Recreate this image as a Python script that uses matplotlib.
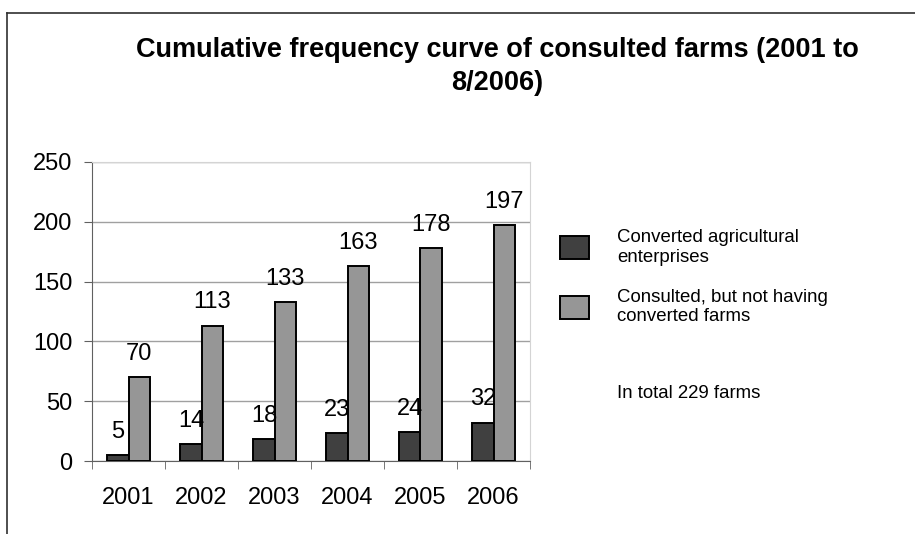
import matplotlib.pyplot as plt
import numpy as np
from matplotlib.lines import Line2D

plt.rcParams['font.family'] = ['Liberation Sans', 'DejaVu Sans']

years = ["2001", "2002", "2003", "2004", "2005", "2006"]
converted = [5, 14, 18, 23, 24, 32]
consulted = [70, 113, 133, 163, 178, 197]
labels = ["Converted agricultural\nenterprises", "Consulted, but not having\nconverted farms"]

fig = plt.figure(figsize=(9.15, 5.34), dpi=100)
ax = fig.add_axes([92 / 915, 1 - 461 / 534, 438 / 915, 299 / 534])

x = np.arange(len(years))
w = 0.29
b1 = ax.bar(x - w / 2, converted, w, color="#404040", edgecolor="black", linewidth=1.4, label=labels[0], zorder=3)
b2 = ax.bar(x + w / 2, consulted, w, color="#969696", edgecolor="black", linewidth=1.4, label=labels[1], zorder=3)

for bars, vals in [(b1, converted), (b2, consulted)]:
    for r, v in zip(bars, vals):
        ax.annotate(str(v), (r.get_x() + r.get_width() / 2, v), xytext=(0, 12.5),
                    textcoords="offset points", ha="center", va="baseline", fontsize=17, zorder=4)

ax.set_xlim(-0.5, 5.5)
ax.set_ylim(0, 250)
ax.set_yticks(range(0, 251, 50))
ax.set_xticks(x)
ax.set_xticklabels(years)
ax.set_xticks(np.arange(-0.5, 6, 1), minor=True)
ax.tick_params(axis="x", which="major", length=0, pad=19, labelsize=17)
ax.tick_params(axis="x", which="minor", length=6, direction="out", color="#606060")
ax.tick_params(axis="y", length=6, direction="out", color="#606060", pad=8, labelsize=17)
ax.yaxis.grid(True, color="#a0a0a0", linewidth=1, zorder=0)
for s in ["left", "bottom"]:
    ax.spines[s].set_color("#606060")
for s in ["top", "right"]:
    ax.spines[s].set_color("#d4d4d4")

fig.suptitle("Cumulative frequency curve of consulted farms (2001 to\n8/2006)",
             x=497 / 915, y=1 - 37 / 534, fontsize=19.5, fontweight="bold", linespacing=1.37)

fig.legend(handles=[b1, b2], loc="upper left", bbox_to_anchor=(560 / 915, 1 - 229 / 534),
           frameon=False, fontsize=13.4, handlelength=1.55, handleheight=1.5,
           handletextpad=1.5, labelspacing=1.25, borderpad=0, borderaxespad=0)
fig.text(617 / 915, 1 - 393 / 534, "In total 229 farms", fontsize=13.4, va="center", ha="left")

# outer chart frame (only top and left visible)
fig.add_artist(Line2D([7 / 915, 1], [1 - 13 / 534, 1 - 13 / 534], color="#303030", linewidth=1.2))
fig.add_artist(Line2D([7 / 915, 7 / 915], [0, 1 - 13 / 534], color="#303030", linewidth=1.2))

fig.savefig("out.png", dpi=100)
